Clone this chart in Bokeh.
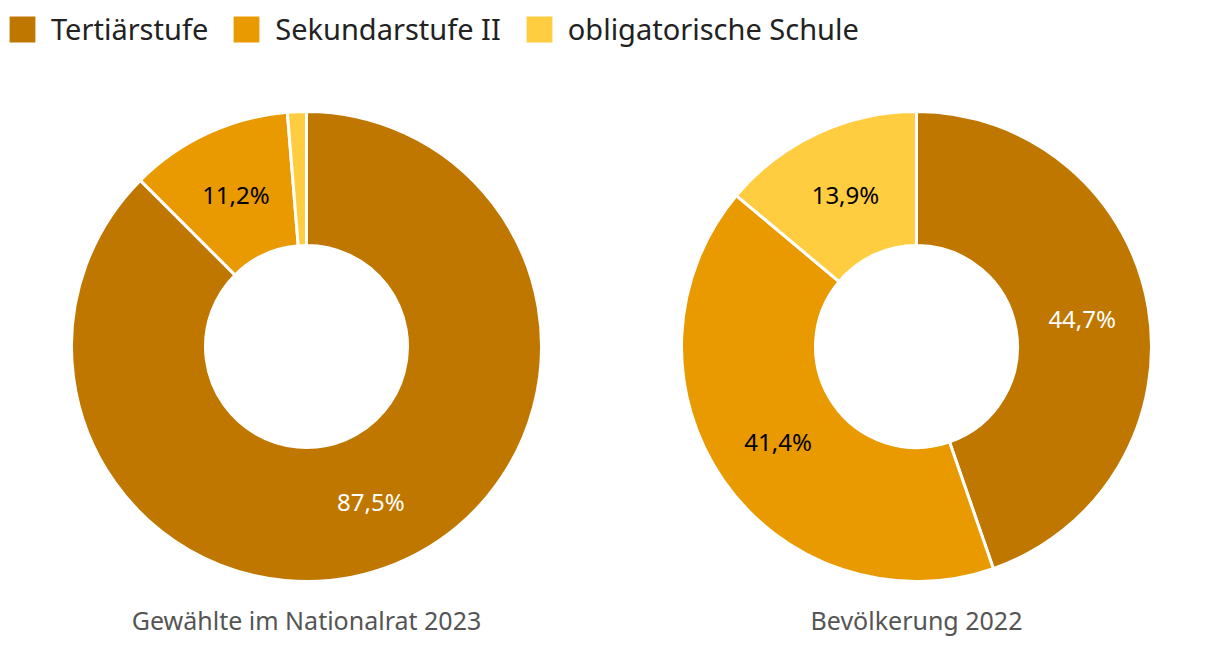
import math
from bokeh.plotting import figure
from bokeh.models import ColumnDataSource, Range1d, Legend, LegendItem
from bokeh.core.properties import value
from bokeh.embed import file_html
from bokeh.resources import INLINE

categories = ["Tertiärstufe", "Sekundarstufe II", "obligatorische Schule"]
colors = ["#BF7700", "#E89A00", "#FFCD3F"]
label_colors = ["white", "black", "black"]
chart_titles = ["Gewählte im Nationalrat 2023", "Bevölkerung 2022"]
gewaehlte = [87.5, 11.2, 1.3]
bevoelkerung = [44.7, 41.4, 13.9]
series = [gewaehlte, bevoelkerung]

W, H = 1220, 666
p = figure(width=W, height=H, output_backend="svg", toolbar_location=None,
           x_range=Range1d(0, W), y_range=Range1d(0, H), min_border=0,
           outline_line_color=None)
p.axis.visible = False
p.grid.visible = False

centers_x = [306, 916]
cy = H - 346
r_out, r_in, r_lab = 235, 101, 168
FONT = "Noto Sans"

legend_renderers = []
for ci, vals in enumerate(series):
    total = sum(vals)
    cum = 0.0
    for k, v in enumerate(vals):
        a0 = math.pi / 2 - 2 * math.pi * cum / total
        a1 = math.pi / 2 - 2 * math.pi * (cum + v) / total
        mid = (a0 + a1) / 2
        src = ColumnDataSource(dict(x=[centers_x[ci]], y=[cy], s=[a1], e=[a0]))
        r = p.annular_wedge(x="x", y="y", inner_radius=r_in, outer_radius=r_out,
                            inner_radius_units="screen", outer_radius_units="screen",
                            start_angle="s", end_angle="e", direction="anticlock",
                            fill_color=colors[k], line_color="white", line_width=3,
                            source=src)
        if ci == 0:
            legend_renderers.append(r)
        if v >= 5:
            lx = centers_x[ci] + r_lab * math.cos(mid)
            ly = cy + r_lab * math.sin(mid)
            txt = f"{v:.1f}".replace(".", ",") + "%"
            p.text(x=[lx], y=[ly], text=[txt], text_align="center", text_baseline="middle",
                   text_font=value(FONT), text_font_size="24px", text_color=label_colors[k])
        cum += v
    p.text(x=[centers_x[ci]], y=[H - 619], text=[chart_titles[ci]], text_align="center",
           text_baseline="middle", text_font=value(FONT), text_font_size="25px",
           text_color="#555555")

legend = Legend(items=[LegendItem(label=categories[i], renderers=[legend_renderers[i]])
                       for i in range(3)],
                orientation="horizontal", location=(4, H - 48),
                glyph_width=36, glyph_height=36, label_standoff=11, spacing=20,
                padding=0, margin=0, border_line_color=None, background_fill_alpha=0,
                label_text_font=FONT, label_text_font_size="29px",
                label_text_color="#222222", label_height=36)
p.add_layout(legend, "center")

open("out.html", "w").write(file_html(p, INLINE))
